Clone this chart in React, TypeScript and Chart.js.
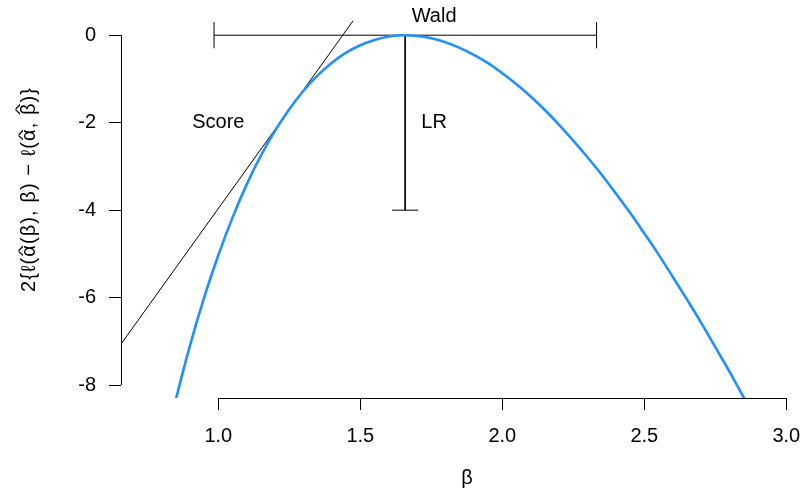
import { useEffect, useRef } from "react";
import { Chart, registerables } from "chart.js";

Chart.register(...registerables);

// ---- data ----
const betaGrid = [
  0.84, 0.85, 0.9, 0.95, 1.0, 1.05, 1.1, 1.15, 1.2, 1.25, 1.3, 1.35, 1.4, 1.45,
  1.5, 1.55, 1.6, 1.658, 1.7, 1.75, 1.8, 1.85, 1.9, 1.95, 2.0, 2.05, 2.1, 2.15,
  2.2, 2.25, 2.3, 2.35, 2.4, 2.45, 2.5, 2.55, 2.6, 2.65, 2.7, 2.75, 2.8, 2.85,
  2.9,
];
const profileLR = [
  -8.61, -8.34, -7.1, -6.0, -5.03, -4.17, -3.41, -2.75, -2.18, -1.69, -1.27,
  -0.92, -0.63, -0.4, -0.23, -0.11, -0.03, 0.0, -0.02, -0.07, -0.16, -0.29,
  -0.45, -0.64, -0.87, -1.12, -1.4, -1.71, -2.05, -2.41, -2.79, -3.19, -3.62,
  -4.06, -4.53, -5.01, -5.52, -6.04, -6.57, -7.13, -7.69, -8.28, -8.87,
];

const scoreLineX = [0.6, 1.5];
const scoreLineY = [-7.58, 0.56];

const waldX = [0.985, 2.332];
const waldY = 0;
const waldCap = 0.3;

const lrX = 1.658;
const lrY = [0, -4];
const lrCap = 0.046;

const xTicks = [1.0, 1.5, 2.0, 2.5, 3.0];
const yTicks = [-8, -6, -4, -2, 0];

const noteText = ["Wald", "Score", "LR"];
const noteX = [1.76, 1.0, 1.76];
const noteY = [0.42, -2.0, -2.0];

const xTitle = "β";
// y title: characters, and which of them carry a hat
const yTitleChars = ["2", "{", "ℓ", "(", "α", "(", "β", ")", ",", " ", "β", ")", " ", "\u2212", " ", "ℓ", "(", "α", ",", " ", "β", ")", "}"];
const yTitleHats = [0, 0, 0, 0, 1, 0, 0, 0, 0, 0, 0, 0, 0, 0, 0, 0, 0, 1, 0, 0, 1, 0, 0];

const FONT = '"Liberation Sans", Arial, Helvetica, sans-serif';
const BLUE = "#1E90FF";

const pts = (xs: number[], ys: number[]) => xs.map((x, i) => ({ x, y: ys[i] }));

export default function App() {
  const ref = useRef<HTMLCanvasElement | null>(null);

  useEffect(() => {
    if (!ref.current) return;
    Chart.defaults.font.family = FONT;
    Chart.defaults.color = "#000";

    const black = {
      borderColor: "#000",
      borderWidth: 1,
      pointRadius: 0,
      showLine: true,
      clip: 0 as any,
    };

    const decor = {
      id: "rdecor",
      afterDraw(chart: any) {
        const ctx = chart.ctx as CanvasRenderingContext2D;
        const xs = chart.scales.x;
        const ys = chart.scales.y;
        const ca = chart.chartArea;
        ctx.save();
        ctx.strokeStyle = "#000";
        ctx.lineWidth = 1;
        // R-style axis lines
        ctx.beginPath();
        const yb = Math.round(ca.bottom) + 0.5;
        ctx.moveTo(xs.getPixelForValue(xTicks[0]), yb);
        ctx.lineTo(xs.getPixelForValue(xTicks[xTicks.length - 1]), yb);
        const xl = Math.round(ca.left) + 0.5;
        ctx.moveTo(xl, ys.getPixelForValue(yTicks[0]));
        ctx.lineTo(xl, ys.getPixelForValue(yTicks[yTicks.length - 1]));
        ctx.stroke();

        ctx.fillStyle = "#000";
        ctx.font = `20px ${FONT}`;
        ctx.textAlign = "center";
        ctx.textBaseline = "middle";
        noteText.forEach((t, i) => {
          ctx.fillText(t, xs.getPixelForValue(noteX[i]), ys.getPixelForValue(noteY[i]));
        });

        // x title
        ctx.textBaseline = "alphabetic";
        ctx.fillText(xTitle, 467, 484);

        // y title (rotated), drawn char by char with hats
        ctx.save();
        ctx.translate(35, 190);
        ctx.rotate(-Math.PI / 2);
        ctx.textAlign = "left";
        ctx.textBaseline = "alphabetic";
        const widths = yTitleChars.map((c) => ctx.measureText(c).width);
        const natural = widths.reduce((a, b) => a + b, 0);
        const target = 204;
        const gap = (target - natural) / (yTitleChars.length - 1);
        let cx = -target / 2;
        yTitleChars.forEach((c, i) => {
          ctx.fillText(c, cx, 0);
          if (yTitleHats[i]) {
            ctx.save();
            ctx.textAlign = "center";
            const up = c === "β" ? 11 : 8;
            ctx.translate(cx + widths[i] / 2, -up);
            ctx.scale(1.2, 0.6);
            ctx.fillText("^", 0, 0);
            ctx.restore();
          }
          cx += widths[i] + gap;
        });
        ctx.restore();
        ctx.restore();
      },
    };

    const chart = new Chart(ref.current, {
      type: "scatter",
      data: {
        datasets: [
          {
            data: pts(betaGrid, profileLR),
            borderColor: BLUE,
            borderWidth: 2.6,
            pointRadius: 0,
            showLine: true,
            cubicInterpolationMode: "monotone",
            clip: 0 as any,
          },
          { ...black, data: pts(scoreLineX, scoreLineY) },
          { ...black, data: pts(waldX, [waldY, waldY]) },
          { ...black, data: pts([waldX[0], waldX[0]], [waldY - waldCap, waldY + waldCap]) },
          { ...black, data: pts([waldX[1], waldX[1]], [waldY - waldCap, waldY + waldCap]) },
          { ...black, data: pts([lrX, lrX], lrY) },
          { ...black, data: pts([lrX - lrCap, lrX + lrCap], [lrY[1], lrY[1]]) },
        ] as any,
      },
      options: {
        animation: false,
        responsive: false,
        events: [],
        layout: { padding: { top: 21, right: 0, bottom: 0, left: 0 } },
        plugins: { legend: { display: false }, tooltip: { enabled: false } },
        scales: {
          x: {
            type: "linear",
            min: 0.6574,
            max: 3.0588,
            grid: { display: true, drawOnChartArea: false, drawTicks: true, tickLength: 12, color: "#000", lineWidth: 1 },
            border: { display: false },
            ticks: {
              autoSkip: false,
              maxRotation: 0,
              padding: 14,
              font: { size: 20, family: FONT },
              color: "#000",
              callback: (v: any) => Number(v).toFixed(1),
            },
            afterBuildTicks: (s: any) => {
              s.ticks = xTicks.map((v) => ({ value: v }));
            },
            afterFit: (s: any) => {
              s.height = 93;
              s.paddingLeft = 0;
              s.paddingRight = 0;
            },
          },
          y: {
            type: "linear",
            min: -8.293,
            max: 0.3246,
            grid: { display: true, drawOnChartArea: false, drawTicks: true, tickLength: 12, color: "#000", lineWidth: 1 },
            border: { display: false },
            ticks: {
              autoSkip: false,
              padding: 13,
              font: { size: 20, family: FONT },
              color: "#000",
              callback: (v: any) => String(v),
            },
            afterBuildTicks: (s: any) => {
              s.ticks = yTicks.map((v) => ({ value: v }));
            },
            afterFit: (s: any) => {
              s.width = 121;
              s.paddingTop = 0;
              s.paddingBottom = 0;
            },
          },
        },
      } as any,
      plugins: [decor],
    });
    return () => chart.destroy();
  }, []);

  return (
    <div style={{ position: "fixed", left: 0, top: 0, width: 803, height: 491, background: "#fff" }}>
      <canvas ref={ref} width={803} height={491} style={{ display: "block" }} />
    </div>
  );
}
